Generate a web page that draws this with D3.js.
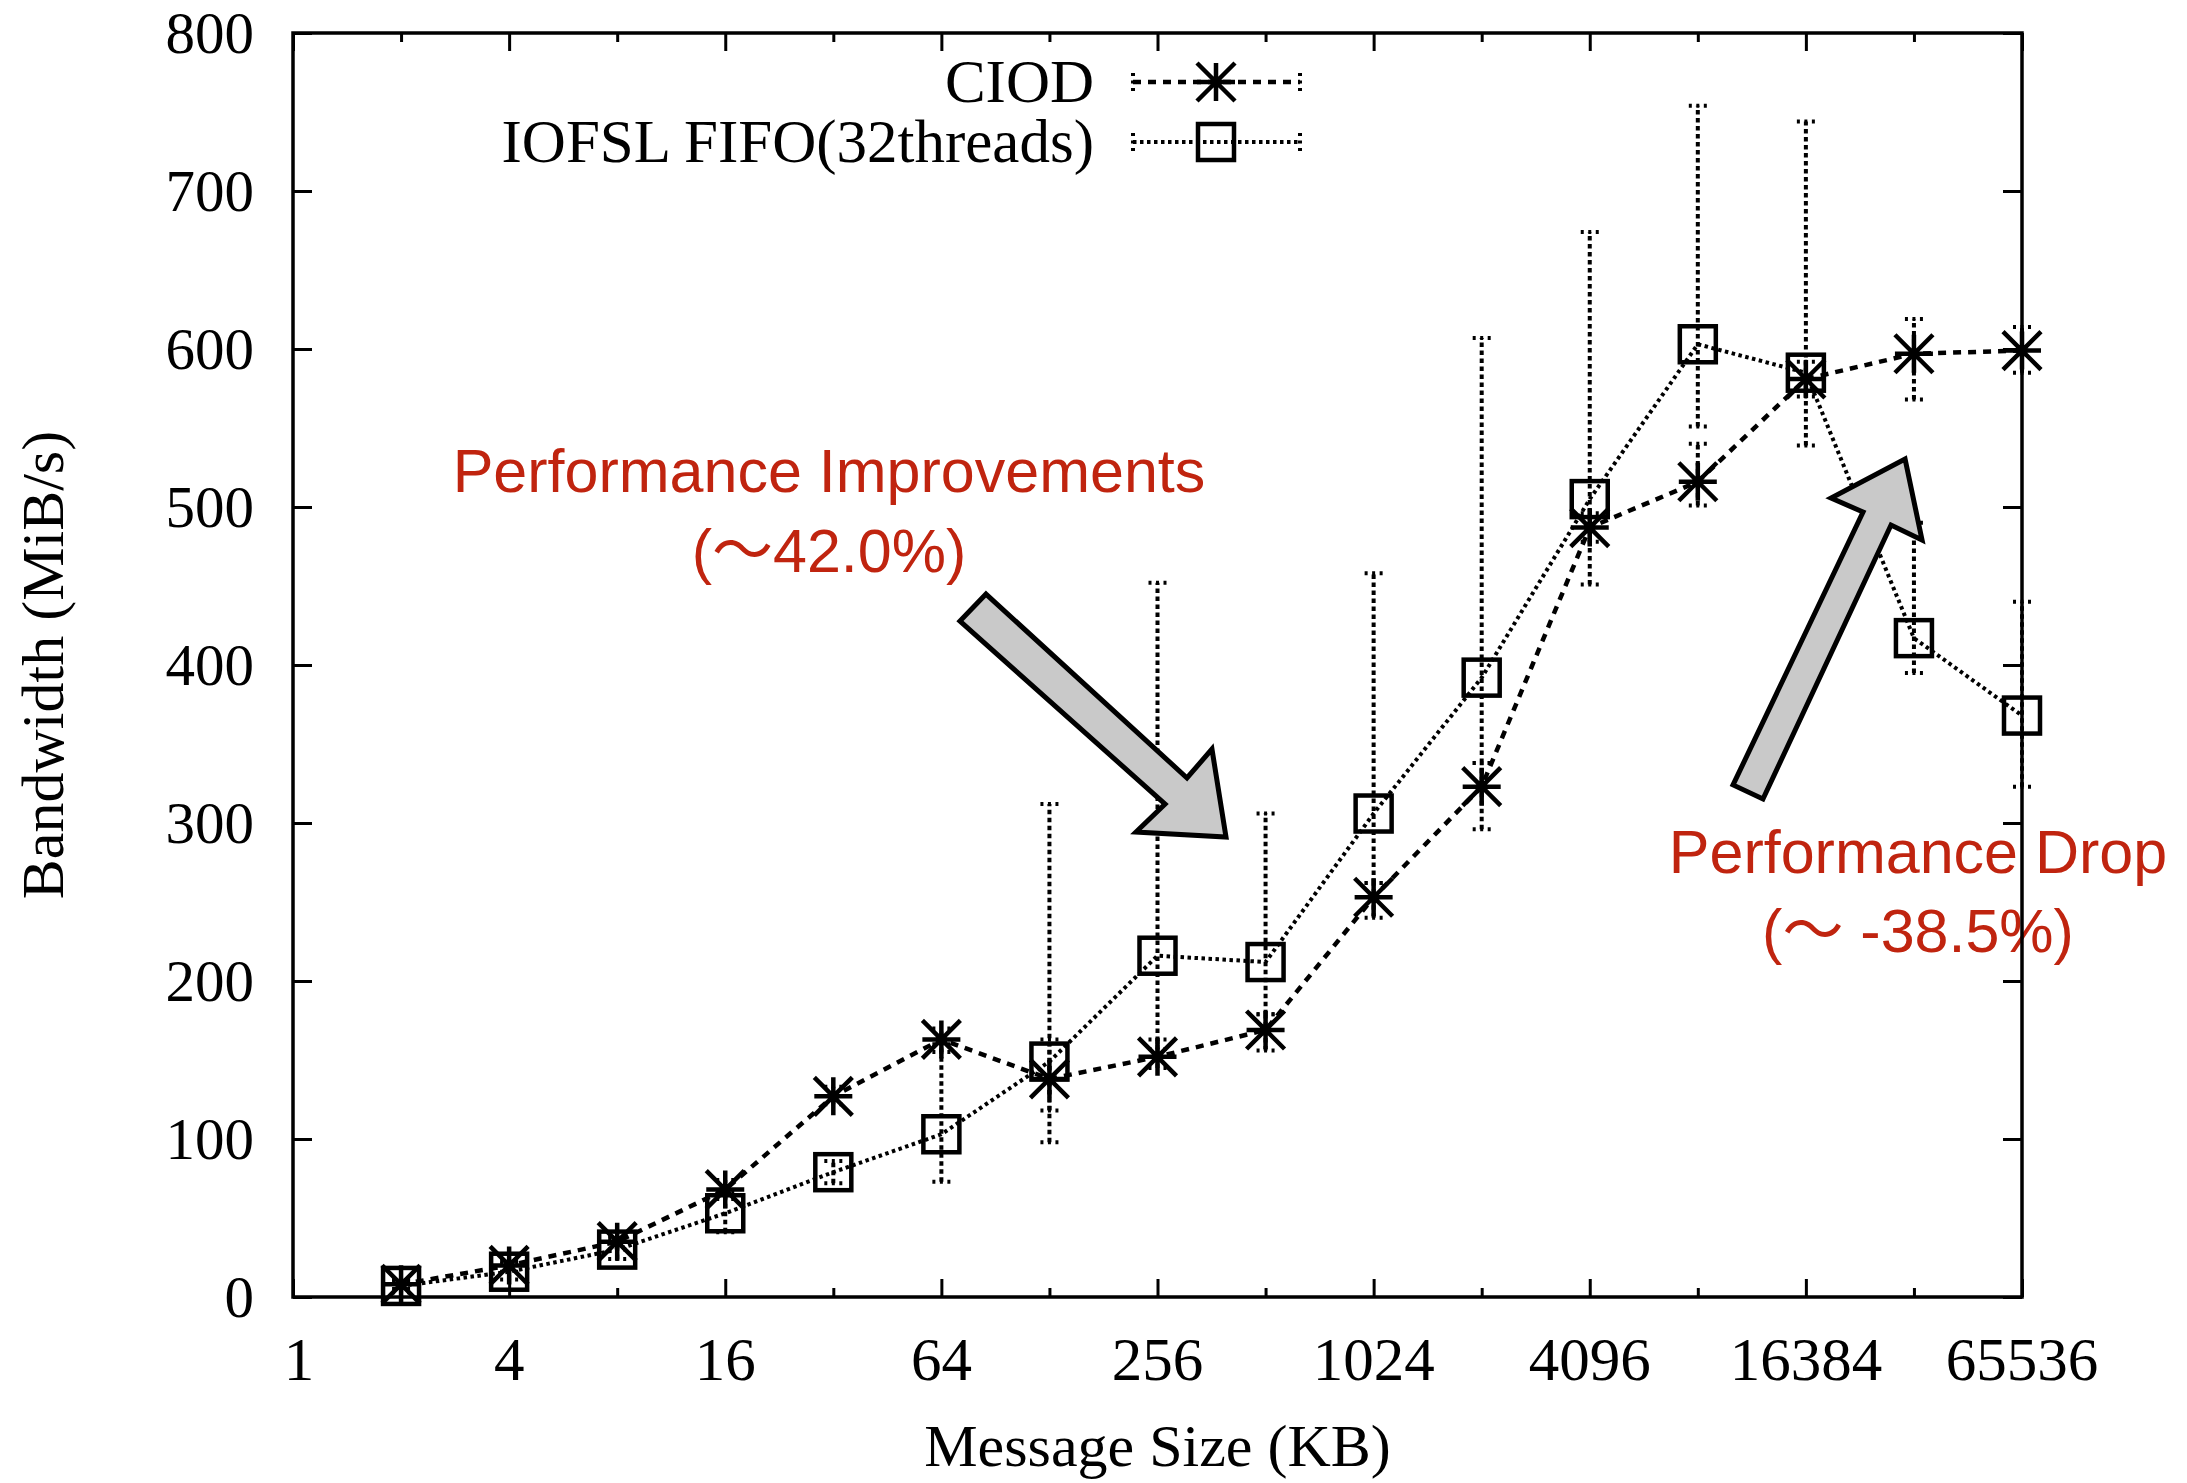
<!DOCTYPE html>
<html>
<head>
<meta charset="utf-8">
<script src="https://cdn.jsdelivr.net/npm/d3@7"></script>
<style>
  html, body { margin: 0; padding: 0; background: #fff; }
  svg { display: block; }
</style>
</head>
<body>
<svg id="chart" width="2187" height="1483"></svg>
<script>
// ---------------- data ----------------
const sizes      = [2, 4, 8, 16, 32, 64, 128, 256, 512, 1024, 2048, 4096, 8192, 16384, 32768, 65536];
const ciod       = [8, 20, 35, 68, 127, 163, 138, 152, 169, 253, 323, 487, 516, 581, 597, 599];
const ciodLo     = [5, 16, 30, 62, 122, 155, 118, 145, 156, 240, 296, 478, 501, 570, 568, 585];
const ciodHi     = [10, 23, 39, 74, 133, 170, 163, 163, 179, 262, 338, 496, 540, 592, 619, 614];
const iofsl      = [7, 16, 30, 53, 79, 103, 149, 216, 212, 306, 392, 505, 603, 585, 417, 368];
const iofslLo    = [3, 11, 24, 41, 72, 73, 98, 157, 179, 262, 338, 451, 551, 539, 395, 323];
const iofslHi    = [11, 21, 37, 66, 86, 160, 312, 452, 306, 458, 607, 674, 754, 744, 490, 440];
const xMajorTicks = [1, 4, 16, 64, 256, 1024, 4096, 16384, 65536];
const xMinorTicks = [2, 8, 32, 128, 512, 2048, 8192, 32768];
const yTicks      = [0, 100, 200, 300, 400, 500, 600, 700, 800];
const seriesNames = ["CIOD", "IOFSL FIFO(32threads)"];
const noteImprove = ["Performance Improvements", "(\u301C42.0%)"];
const noteDrop    = ["Performance Drop", "(\u301C -38.5%)"];
// annotation arrows: [log2(KB), MiB/s] outline points
const arrowImprove = [[6.413,444.9],[8.273,328.5],[8.504,346.8],[8.634,291.1],[7.801,294.3],[8.070,312.0],[6.172,427.8]];
const arrowDrop    = [[13.326,324.1],[14.529,496.8],[14.233,505.7],[14.918,530.4],[15.075,479.1],[14.788,488.6],[13.603,315.2]];

// ---------------- layout ----------------
const L = 293, R = 2022, T = 33, B = 1297;
const serif = "'Liberation Serif', 'Times New Roman', serif";
const sans  = "'Liberation Sans', Helvetica, Arial, 'Noto Sans CJK JP', sans-serif";
const red = "#c0240f";

const svg = d3.select("#chart");
const x = d3.scaleLog().base(2).domain([1, 65536]).range([L, R]);
const y = d3.scaleLinear().domain([0, 800]).range([B, T]);

const rowsC = sizes.map((s, i) => ({s, v: ciod[i], lo: ciodLo[i], hi: ciodHi[i]}));
const rowsI = sizes.map((s, i) => ({s, v: iofsl[i], lo: iofslLo[i], hi: iofslHi[i]}));

const gData = svg.append("g");
const line = d3.line().x(d => x(d.s)).y(d => y(d.v));

const styleC = {dash: "8,7", lw: 4.5};
const styleI = {dash: "3.5,3.5", lw: 4};
const errDash = "4.5,3.5";

// series lines
gData.append("path").datum(rowsC).attr("d", line)
  .attr("fill", "none").attr("stroke", "#000").attr("stroke-width", styleC.lw).attr("stroke-dasharray", styleC.dash);
gData.append("path").datum(rowsI).attr("d", line)
  .attr("fill", "none").attr("stroke", "#000").attr("stroke-width", styleI.lw).attr("stroke-dasharray", styleI.dash);

// error bars
function errorBars(rows) {
  const g = gData.append("g").attr("stroke", "#000").attr("stroke-width", 4).attr("stroke-dasharray", errDash).attr("fill", "none");
  g.selectAll("line.v").data(rows).join("line").attr("class", "v")
    .attr("x1", d => x(d.s)).attr("x2", d => x(d.s)).attr("y1", d => y(d.lo)).attr("y2", d => y(d.hi));
  ["lo", "hi"].forEach(k => {
    g.selectAll("line." + k).data(rows).join("line").attr("class", k)
      .attr("x1", d => x(d.s) - 9).attr("x2", d => x(d.s) + 9)
      .attr("y1", d => y(d[k])).attr("y2", d => y(d[k]))
      .attr("stroke-dasharray", "3,4.5");
  });
}
errorBars(rowsI);
errorBars(rowsC);

// markers
function asterisk(g, cx, cy, r) {
  const p = `M${cx},${cy - r}L${cx},${cy + r}M${cx - r},${cy}L${cx + r},${cy}` +
            `M${cx - r},${cy - r}L${cx + r},${cy + r}M${cx - r},${cy + r}L${cx + r},${cy - r}`;
  g.append("path").attr("d", p).attr("stroke", "#000").attr("stroke-width", 4.5).attr("fill", "none");
}
function square(g, cx, cy, r) {
  g.append("rect").attr("x", cx - r).attr("y", cy - r).attr("width", 2 * r).attr("height", 2 * r)
    .attr("fill", "none").attr("stroke", "#000").attr("stroke-width", 4.5);
}
const gMarks = svg.append("g");
rowsI.forEach(d => square(gMarks, x(d.s), y(d.v), 18));
rowsC.forEach(d => asterisk(gMarks, x(d.s), y(d.v), 19));

// arrows
const toPx = p => [x(Math.pow(2, p[0])), y(p[1])];
[arrowImprove, arrowDrop].forEach(a => {
  svg.append("polygon").attr("points", a.map(toPx).map(p => p.join(",")).join(" "))
    .attr("fill", "#c9c9c9").attr("stroke", "#000").attr("stroke-width", 5).attr("stroke-linejoin", "miter");
});

// red notes
function note(lines, cx, y1, y2) {
  [y1, y2].forEach((yy, i) => {
    svg.append("text").attr("x", cx).attr("y", yy).attr("text-anchor", "middle")
      .attr("font-family", sans).attr("font-size", 61).attr("fill", red).text(lines[i]);
  });
}
note(noteImprove, 829, 492, 572);
note(noteDrop, 1918, 873, 952);

// legend
const legend = svg.append("g");
const legRows = [{name: seriesNames[0], yc: 82, st: styleC, mark: "ast"}, {name: seriesNames[1], yc: 142, st: styleI, mark: "sq"}];
legRows.forEach(r => {
  legend.append("text").attr("x", 1094).attr("y", r.yc + 20).attr("text-anchor", "end")
    .attr("font-family", serif).attr("font-size", 61).attr("fill", "#000").text(r.name);
  legend.append("line").attr("x1", 1133).attr("x2", 1300).attr("y1", r.yc).attr("y2", r.yc)
    .attr("stroke", "#000").attr("stroke-width", r.st.lw).attr("stroke-dasharray", r.st.dash);
  [1133, 1300].forEach(xx => legend.append("line").attr("x1", xx).attr("x2", xx).attr("y1", r.yc - 9).attr("y2", r.yc + 9)
    .attr("stroke", "#000").attr("stroke-width", 4).attr("stroke-dasharray", "3,4.5"));
  if (r.mark === "ast") asterisk(legend, 1216, r.yc, 19); else square(legend, 1216, r.yc, 18);
});

// axes ticks (inward)
const axG = svg.append("g");
function tickAxis(axis) {
  const g = axG.append("g").call(axis);
  g.select(".domain").remove();
  g.selectAll("text").remove();
  g.selectAll("line").attr("stroke", "#000").attr("stroke-width", 3);
  return g;
}
tickAxis(d3.axisBottom(x).tickValues(xMajorTicks).tickSize(-18)).attr("transform", `translate(0,${B})`);
tickAxis(d3.axisBottom(x).tickValues(xMinorTicks).tickSize(-9)).attr("transform", `translate(0,${B})`);
tickAxis(d3.axisTop(x).tickValues(xMajorTicks).tickSize(-18)).attr("transform", `translate(0,${T})`);
tickAxis(d3.axisTop(x).tickValues(xMinorTicks).tickSize(-9)).attr("transform", `translate(0,${T})`);
tickAxis(d3.axisLeft(y).tickValues(yTicks).tickSize(-19)).attr("transform", `translate(${L},0)`);
tickAxis(d3.axisRight(y).tickValues(yTicks).tickSize(-19)).attr("transform", `translate(${R},0)`);

// border
axG.append("rect").attr("x", L).attr("y", T).attr("width", R - L).attr("height", B - T)
  .attr("fill", "none").attr("stroke", "#000").attr("stroke-width", 3.5);

// tick labels
axG.selectAll("text.xl").data(xMajorTicks).join("text").attr("class", "xl")
  .attr("x", d => x(d) + (d === 1 ? 6 : 0)).attr("y", 1380).attr("text-anchor", "middle")
  .attr("font-family", serif).attr("font-size", 61).text(d => d3.format("d")(d));
axG.selectAll("text.yl").data(yTicks).join("text").attr("class", "yl")
  .attr("x", 254).attr("y", d => y(d) + 20).attr("text-anchor", "end")
  .attr("font-family", serif).attr("font-size", 59).text(d => d);

// axis titles
svg.append("text").attr("x", (L + R) / 2).attr("y", 1466).attr("text-anchor", "middle")
  .attr("font-family", serif).attr("font-size", 60).text("Message Size (KB)");
svg.append("text").attr("transform", `translate(63,${(T + B) / 2}) rotate(-90)`).attr("text-anchor", "middle")
  .attr("font-family", serif).attr("font-size", 60).text("Bandwidth (MiB/s)");
</script>
</body>
</html>
